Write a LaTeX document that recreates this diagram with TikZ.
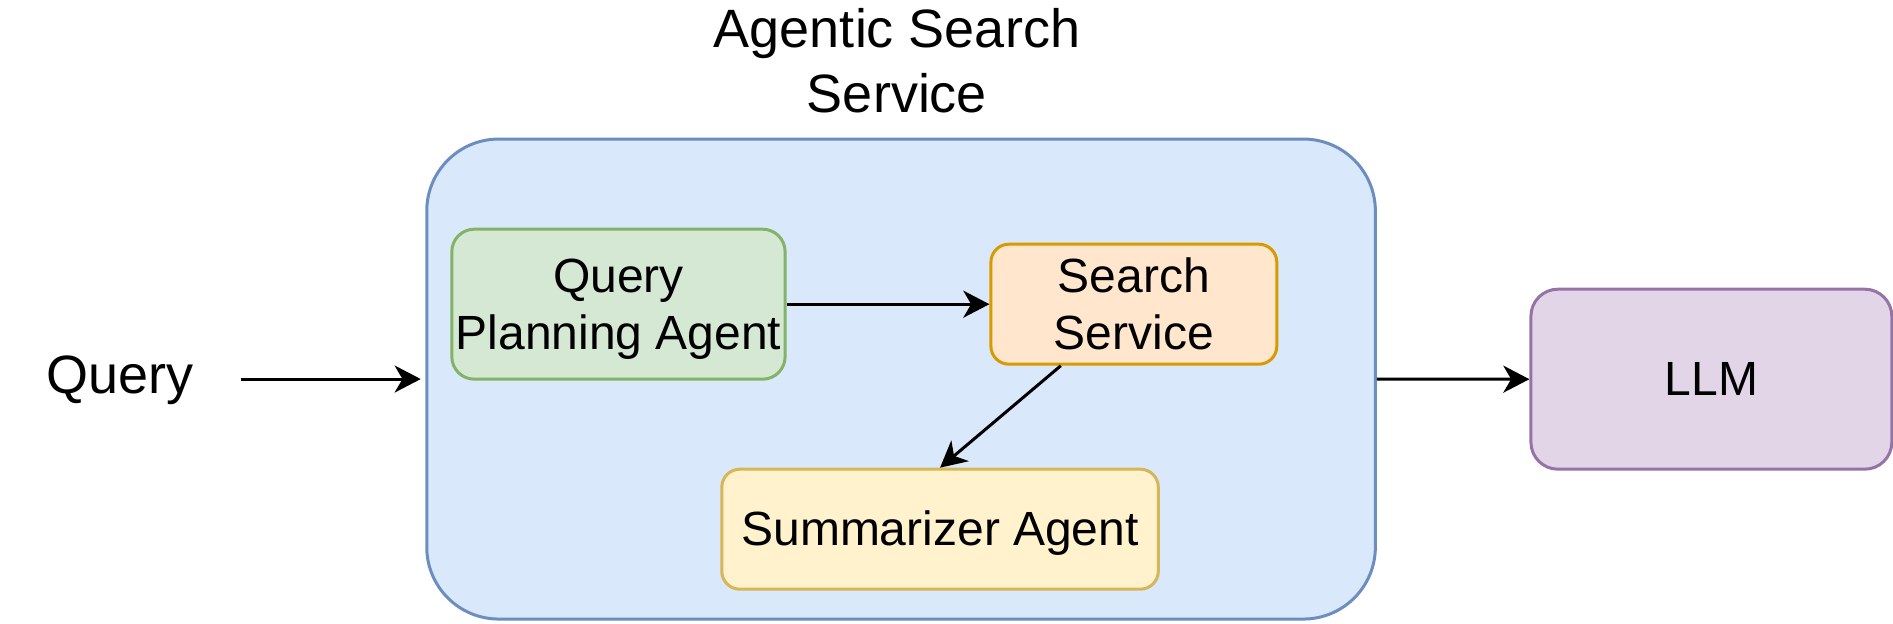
\documentclass[tikz,border=0pt]{standalone}
\usepackage{fontspec}
\setmainfont{Liberation Sans}
\usetikzlibrary{arrows.meta}
\newcommand{\twol}[2]{\begin{tabular}[b]{@{}c@{}}#1\\#2\end{tabular}}
\definecolor{cBlueF}{HTML}{DAE8FC}
\definecolor{cBlueD}{HTML}{6C8EBF}
\definecolor{cGreenF}{HTML}{D5E8D4}
\definecolor{cGreenD}{HTML}{82B366}
\definecolor{cOrangeF}{HTML}{FFE6CC}
\definecolor{cOrangeD}{HTML}{D79B00}
\definecolor{cYellowF}{HTML}{FFF2CC}
\definecolor{cYellowD}{HTML}{D6B656}
\definecolor{cPurpleF}{HTML}{E1D5E7}
\definecolor{cPurpleD}{HTML}{9673A6}
\tikzset{
  box/.style={rectangle, draw, rounded corners=#1, line width=1pt, inner sep=0pt,
    font=\fontsize{16}{19.2}\selectfont},
  twoline/.style={text height=30.3pt, text depth=0pt},
  oneline/.style={text height=11.1pt, text depth=0pt},
  arr/.style={-{Stealth[length=8.7pt,width=9pt,inset=2.6pt]}, line width=1pt},
}
\begin{document}
\begin{tikzpicture}[x=1pt,y=-1pt]
\useasboundingbox (0,0) rectangle (631,208);
% container
\node[box=24pt, fill=cBlueF, draw=cBlueD, minimum width=316.2pt, minimum height=160pt] (svc) at (300.35,126.35) {};
\node[anchor=base, inner sep=0pt, font=\fontsize{18}{21.6}\selectfont] (title) at (299,37.6) {\twol{Agentic Search}{Service}};
% inner boxes
\node[box=7.5pt, twoline, fill=cGreenF, draw=cGreenD, minimum width=111.1pt, minimum height=50pt] (qpa) at (206.15,101.4) {\twol{Query}{Planning Agent}};
\node[box=6pt, twoline, fill=cOrangeF, draw=cOrangeD, minimum width=95.3pt, minimum height=40pt] (ss) at (377.95,101.4) {\twol{Search}{Service}};
\node[box=6pt, oneline, fill=cYellowF, draw=cYellowD, minimum width=145.5pt, minimum height=40pt] (sum) at (313.35,176.4) {Summarizer Agent};
\node[box=9pt, oneline, fill=cPurpleF, draw=cPurpleD, minimum width=120.3pt, minimum height=60pt] (llm) at (570.45,126.4) {LLM};
% query text
\node[inner sep=0pt, minimum width=80pt, text height=12.5pt, text depth=0pt, font=\fontsize{18}{21.6}\selectfont] (query) at (40,125) {Query};
% connectors
\draw[arr, shorten >=1.5pt] (query.east |- svc.west) -- (svc.west);
\draw[arr] (qpa.east) -- (ss.west);
\draw[arr] ([xshift=23.8pt]ss.south west) -- (sum.north);
\draw[arr] (svc.east) -- (llm.west);
\end{tikzpicture}
\end{document}
